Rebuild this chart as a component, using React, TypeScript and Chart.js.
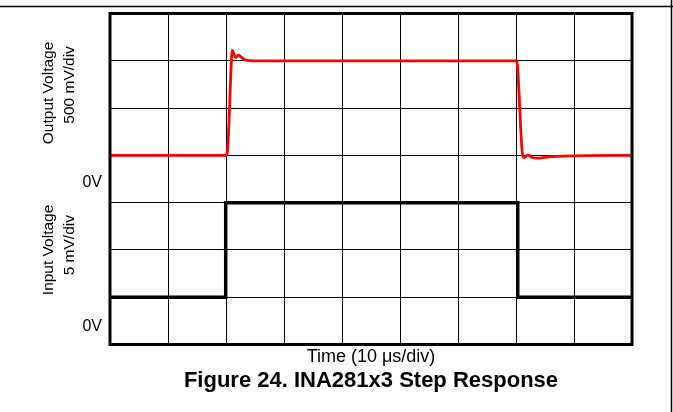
import React, { useEffect, useRef } from 'react';
import { Chart, registerables } from 'chart.js';

Chart.register(...registerables);

// Time in microseconds (10 us/div), voltages in screen divisions
const outTime = [0, 20.1, 20.3, 21.0, 21.1, 21.4, 21.7, 22.1, 22.6, 23.3, 25.0, 40.0, 70.1, 70.25, 71.15, 71.45, 72.05, 72.7, 73.8, 75.3, 79.3, 90];
const outVolt = [4.0, 4.0, 4.15, 6.15, 6.22, 6.12, 6.07, 6.12, 6.08, 6.02, 6.0, 6.0, 6.0, 5.9, 4.0, 3.955, 4.01, 3.96, 3.94, 3.965, 3.99, 4.0];
const inTime = [0, 19.95, 19.95, 70.3, 70.3, 90];
const inVolt = [1, 1, 3, 3, 1, 1];

const xMin = 0;
const xMax = 90;
const xStep = 10;
const yMin = 0;
const yMax = 7;
const yStep = 1;

const figureTitle = 'Figure 24. INA281x3 Step Response';
const xAxisTitle = 'Time (10 \u03BCs/div)';
const outLabelLines = ['Output Voltage', '500 mV/div'];
const outLabelLevels = [5.32, 5.49];
const inLabelLines = ['Input Voltage', '5 mV/div'];
const inLabelLevels = [2.0, 2.1];
const zeroLabel = '0V';
const zeroLevels = [3.42, 0.37];

const FONT = '"Liberation Sans", Arial, Helvetica, sans-serif';

const annotPlugin = {
  id: 'annot',
  afterDraw(chart: any) {
    const { ctx, chartArea: a, scales } = chart;
    const y = scales.y;
    ctx.save();
    // plot frame
    ctx.strokeStyle = '#000';
    ctx.lineWidth = 3;
    ctx.strokeRect(a.left, a.top, a.right - a.left, a.bottom - a.top);
    // outer page frame lines
    ctx.lineWidth = 1.5;
    ctx.beginPath();
    ctx.moveTo(0, 6.5);
    ctx.lineTo(chart.width, 6.5);
    ctx.moveTo(chart.width - 1.5, 0);
    ctx.lineTo(chart.width - 1.5, chart.height);
    ctx.stroke();
    // 0V labels
    ctx.fillStyle = '#000';
    ctx.font = `16px ${FONT}`;
    ctx.textAlign = 'right';
    ctx.textBaseline = 'middle';
    zeroLevels.forEach((v) => ctx.fillText(zeroLabel, a.left - 8, y.getPixelForValue(v)));
    // rotated labels
    ctx.font = `15.5px ${FONT}`;
    ctx.textAlign = 'center';
    const xs = [a.left - 61, a.left - 40.5];
    const drawRot = (lines: string[], levels: number[]) => {
      lines.forEach((t, i) => {
        ctx.save();
        ctx.translate(xs[i], y.getPixelForValue(levels[i]));
        ctx.rotate(-Math.PI / 2);
        ctx.fillText(t, 0, 0);
        ctx.restore();
      });
    };
    drawRot(outLabelLines, outLabelLevels);
    drawRot(inLabelLines, inLabelLevels);
    ctx.restore();
  },
};

export default function App() {
  const ref = useRef<HTMLCanvasElement | null>(null);
  useEffect(() => {
    if (!ref.current) return;
    Chart.defaults.font.family = FONT;
    const chart = new Chart(ref.current, {
      type: 'line',
      data: {
        datasets: [
          {
            label: 'Output Voltage',
            data: outTime.map((t, i) => ({ x: t, y: outVolt[i] })),
            borderColor: '#ff0000',
            borderWidth: 2.8,
            pointRadius: 0,
            cubicInterpolationMode: 'monotone',
            fill: false,
          },
          {
            label: 'Input Voltage',
            data: inTime.map((t, i) => ({ x: t, y: inVolt[i] })),
            borderColor: '#000000',
            borderWidth: 3.5,
            pointRadius: 0,
            tension: 0,
            fill: false,
          },
        ],
      },
      options: {
        animation: false,
        responsive: false,
        maintainAspectRatio: false,
        layout: { padding: { left: 110, right: 41, top: 13.5, bottom: 17.8 } },
        plugins: {
          legend: { display: false },
          tooltip: { enabled: false },
          title: {
            display: true,
            position: 'bottom',
            text: figureTitle,
            color: '#000',
            font: { size: 22, weight: 'bold', family: FONT, lineHeight: 1.2 },
            padding: { top: 0, bottom: 0 },
          },
        },
        scales: {
          x: {
            type: 'linear',
            min: xMin,
            max: xMax,
            ticks: { display: false, stepSize: xStep },
            grid: { color: '#000', lineWidth: 1, drawTicks: false },
            border: { display: false },
            title: {
              display: true,
              text: xAxisTitle,
              color: '#000',
              font: { size: 18, family: FONT, lineHeight: 1.2 },
              padding: { top: 1.7, bottom: 0 },
            },
          },
          y: {
            type: 'linear',
            min: yMin,
            max: yMax,
            ticks: { display: false, stepSize: yStep },
            grid: { color: '#000', lineWidth: 1, drawTicks: false },
            border: { display: false },
          },
        },
      },
      plugins: [annotPlugin],
    } as any);
    return () => chart.destroy();
  }, []);
  return (
    <div style={{ position: 'absolute', left: 0, top: 0, width: 673, height: 412, background: '#fff' }}>
      <canvas ref={ref} width={673} height={412} style={{ width: 673, height: 412 }} />
    </div>
  );
}
